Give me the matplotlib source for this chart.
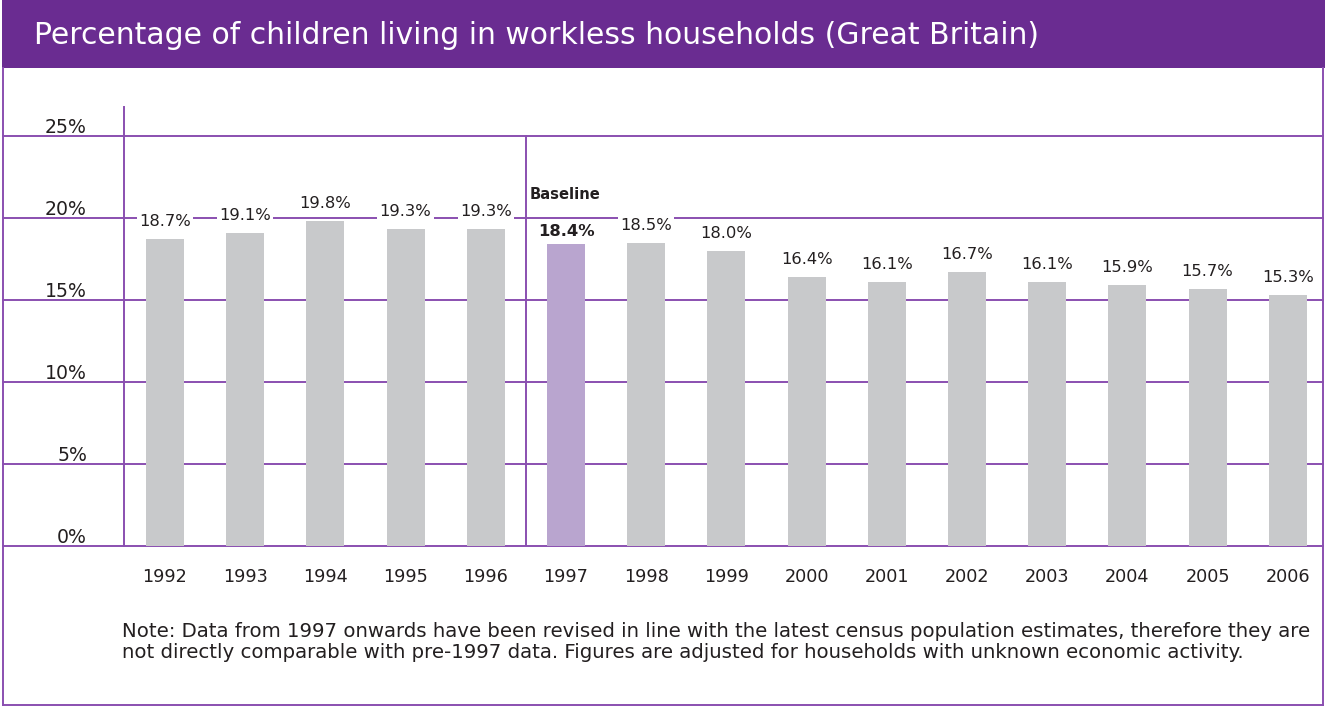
import matplotlib.pyplot as plt
from matplotlib.patches import Rectangle
from matplotlib.lines import Line2D
import matplotlib.transforms as mtransforms

years = ["1992", "1993", "1994", "1995", "1996", "1997", "1998", "1999",
         "2000", "2001", "2002", "2003", "2004", "2005", "2006"]
values = [18.7, 19.1, 19.8, 19.3, 19.3, 18.4, 18.5, 18.0,
          16.4, 16.1, 16.7, 16.1, 15.9, 15.7, 15.3]
baseline_year = "1997"
yticks = [0, 5, 10, 15, 20, 25]
title = "Percentage of children living in workless households (Great Britain)"
note_lines = ["Note: Data from 1997 onwards have been revised in line with the latest census population estimates, therefore they are",
              "not directly comparable with pre-1997 data. Figures are adjusted for households with unknown economic activity."]

PURPLE = "#6a2c91"
LINE = "#8a4fb0"
GREY = "#c8c9cb"
LILAC = "#b9a5cf"
TEXT = "#231f20"

plt.rcParams['font.family'] = ['DejaVu Sans']

W, H = 1325, 707
PT = 0.72  # points per pixel at dpi 100
fig = plt.figure(figsize=(W / 100, H / 100), dpi=100)

def fx(px):
    return px / W

def fy(py):
    return 1 - py / H

# header band and outer frame
fig.patches.append(Rectangle((fx(2), fy(68)), fx(1323), 68 / H, transform=fig.transFigure,
                             facecolor=PURPLE, edgecolor='none', zorder=0))
fig.text(fx(34), fy(44), title, color='white', fontsize=21.5, va='baseline', ha='left')
for xs, ys in [([3, 3], [68, 705]), ([1323, 1323], [68, 705]), ([3, 1323], [705, 705])]:
    fig.add_artist(Line2D([fx(v) for v in xs], [fy(v) for v in ys], transform=fig.transFigure,
                          color=LINE, lw=1.4))

# plot area: 0% at y=546, 16.4 px per percent, bars 80.2 px apart from x=165
left, right, bottom, top = 124, 1323, 546, 107
step, first = 80.2, 165
ax = fig.add_axes([fx(left), fy(bottom), fx(right - left), (bottom - top) / H])
ax.set_xlim(-(first - left) / step, (right - first) / step)
ax.set_ylim(0, (bottom - top) / 16.4)
for s in ax.spines.values():
    s.set_visible(False)
ax.set_xticks([])
ax.set_yticks([])

xs = list(range(len(years)))
colors = [LILAC if y == baseline_year else GREY for y in years]
ax.bar(xs, values, width=38 / step, color=colors, zorder=2)

# grid lines run out to the frame on the left, behind the bars
ext = (left - 3) / (right - left)
fig_data = mtransforms.blended_transform_factory(fig.transFigure, ax.transData)
for t in yticks:
    ax.axhline(t, xmin=-ext, xmax=1, color=LINE, lw=1.4, clip_on=False, zorder=1)
    ax.annotate(f"{t}%", xy=(fx(87), t), xycoords=fig_data,
                xytext=(0, 3 * PT), textcoords='offset points',
                ha='right', va='baseline', fontsize=13.6, color=TEXT)

ax.axvline(ax.get_xlim()[0], ymin=0, ymax=1, color=LINE, lw=1.4, clip_on=False)
b = years.index(baseline_year)
ax.plot([b - 0.5, b - 0.5], [0, 25], color=LINE, lw=1.4, zorder=1)
ax.annotate("Baseline", xy=(b - 0.5, 0), xytext=(4 * PT, (546 - 199) * PT),
            textcoords='offset points', fontsize=10.6, fontweight='bold', color=TEXT,
            ha='left', va='baseline')

for x, v, y in zip(xs, values, years):
    bold = y == baseline_year
    gap = 8 if bold else 13
    ax.annotate(f"{v:.1f}%", xy=(x, v), xytext=(0, gap * PT), textcoords='offset points',
                ha='center', va='baseline', fontsize=11.8, color=TEXT,
                fontweight='bold' if bold else 'normal',
                bbox=dict(facecolor='white', edgecolor='none', pad=1.6), zorder=3)
    ax.annotate(y, xy=(x, 0), xytext=(0, -36 * PT), textcoords='offset points',
                ha='center', va='baseline', fontsize=12.7, color=TEXT)

for i, line in enumerate(note_lines):
    fig.text(fx(122), fy(637 + 21 * i), line, fontsize=14.2, color=TEXT, ha='left', va='baseline')

fig.savefig("out.png", dpi=100)
